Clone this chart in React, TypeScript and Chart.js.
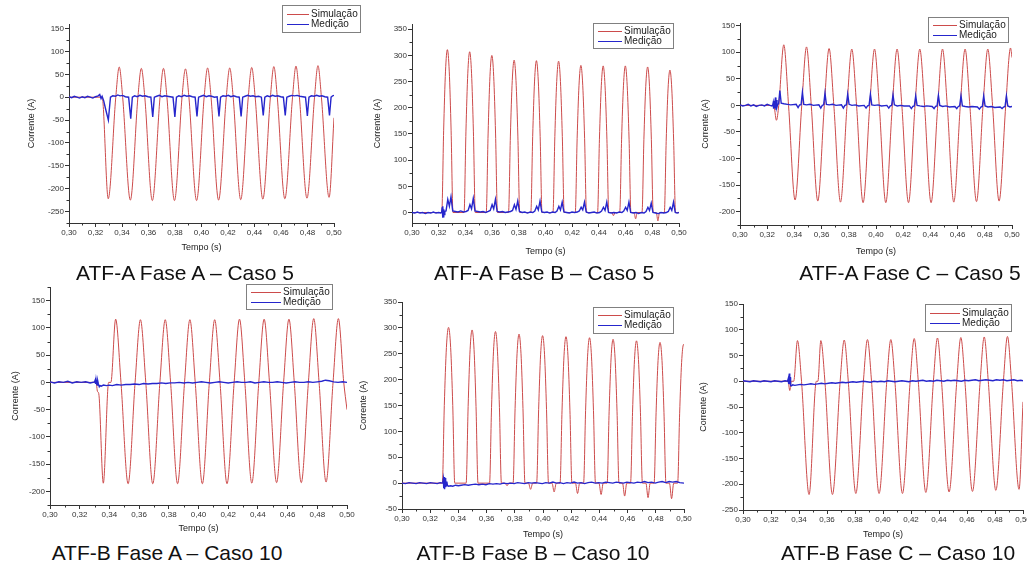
import React, { useEffect, useRef } from "react";
import { Chart, registerables } from "chart.js";

Chart.register(...registerables);

const FONT = 'Arial, "Liberation Sans", Helvetica, sans-serif';

// ---------- tick labels / texts ----------
const X_TICKS = [0.3, 0.32, 0.34, 0.36, 0.38, 0.4, 0.42, 0.44, 0.46, 0.48, 0.5];
const Y_TICKS_AA = [-250, -200, -150, -100, -50, 0, 50, 100, 150];
const Y_TICKS_AB = [0, 50, 100, 150, 200, 250, 300, 350];
const Y_TICKS_AC = [-200, -150, -100, -50, 0, 50, 100, 150];
const Y_TICKS_BA = [-200, -150, -100, -50, 0, 50, 100, 150];
const Y_TICKS_BB = [-50, 0, 50, 100, 150, 200, 250, 300, 350];
const Y_TICKS_BC = [-250, -200, -150, -100, -50, 0, 50, 100, 150];

const SERIES_LABELS = ["Simulação", "Medição"];
const X_TITLE = "Tempo (s)";
const Y_TITLE = "Corrente (A)";
const CAPTIONS = [
  "ATF-A Fase A – Caso 5",
  "ATF-A Fase B – Caso 5",
  "ATF-A Fase C – Caso 5",
  "ATF-B Fase A – Caso 10",
  "ATF-B Fase B – Caso 10",
  "ATF-B Fase C – Caso 10",
];

// ---------- data: [tempo (s), corrente (A)] ----------
const simAA = [
  [0.3, 0], [0.325, 0], [0.3296, -222], [0.3353, 0], [0.3379, 66], [0.3405, 0],
  [0.3463, -225], [0.352, 0], [0.3546, 63], [0.3572, 0],
  [0.3629, -226], [0.3687, 0], [0.3713, 63], [0.3739, 0],
  [0.3796, -226], [0.3853, 0], [0.3879, 62], [0.3905, 0],
  [0.3963, -226], [0.402, 0], [0.4046, 64], [0.4072, 0],
  [0.4129, -225], [0.4187, 0], [0.4213, 64], [0.4239, 0],
  [0.4296, -224], [0.4353, 0], [0.4379, 65], [0.4405, 0],
  [0.4463, -223], [0.452, 0], [0.4546, 67], [0.4572, 0],
  [0.4629, -222], [0.4687, 0], [0.4713, 68], [0.4739, 0],
  [0.4796, -221], [0.4853, 0], [0.4879, 69], [0.4905, 0],
  [0.4963, -219], [0.5, -45],
];
const medAA = [
  [0.3, 1], [0.302, -1], [0.304, 2], [0.306, 0], [0.308, -2], [0.31, 1], [0.312, -1], [0.314, 2], [0.316, 0], [0.318, -2], [0.32, 1], [0.322, 3], [0.3232, 6], [0.3242, -3], [0.325, 2],
  [0.3262, -8], [0.3278, -28], [0.3297, -50], [0.3306, -22], [0.3313, 0],
  [0.333, 3], [0.335, 2], [0.3368, 5], [0.3385, 3], [0.3405, 4], [0.3425, 1], [0.345, 0],
  [0.3466, -47], [0.3478, 0], [0.3495, 3], [0.3515, 1], [0.3535, 4], [0.3555, 2], [0.3575, 3], [0.3597, 1], [0.3618, 0],
  [0.3632, -43], [0.3644, 0], [0.3662, 2], [0.3682, 4], [0.3702, 1], [0.3722, 3], [0.3742, 2], [0.3764, 1], [0.3785, 0],
  [0.3799, -43], [0.3811, 0], [0.3829, 3], [0.3849, 1], [0.3869, 4], [0.3889, 2], [0.3909, 3], [0.3931, 1], [0.3952, 0],
  [0.3966, -42], [0.3978, 0], [0.3996, 2], [0.4016, 4], [0.4036, 1], [0.4056, 3], [0.4076, 2], [0.4098, 0], [0.4118, 1],
  [0.4132, -42], [0.4144, 0], [0.4162, 3], [0.4182, 2], [0.4202, 4], [0.4222, 1], [0.4242, 3], [0.4264, 1], [0.4285, 0],
  [0.4299, -42], [0.4311, 0], [0.4329, 2], [0.4349, 4], [0.4369, 2], [0.4389, 3], [0.4409, 1], [0.4431, 2], [0.4452, 0],
  [0.4466, -40], [0.4478, 0], [0.4496, 3], [0.4516, 1], [0.4536, 4], [0.4556, 2], [0.4576, 3], [0.4598, 1], [0.4618, 0],
  [0.4632, -40], [0.4644, 0], [0.4662, 2], [0.4682, 4], [0.4702, 3], [0.4722, 4], [0.4742, 2], [0.4764, 1], [0.4785, 0],
  [0.4799, -41], [0.4811, 0], [0.4829, 3], [0.4849, 2], [0.4869, 4], [0.4889, 2], [0.4909, 3], [0.4931, 1], [0.4952, 0],
  [0.4966, -40], [0.4978, 0], [0.499, 3], [0.5, 4],
];

const simAB = [
  [0.3, 0], [0.3223, 0], [0.3237, 156], [0.3251, 270], [0.3265, 311], [0.3279, 270], [0.3293, 156], [0.3307, 0],
  [0.339, 0], [0.3404, 154], [0.3418, 266], [0.3432, 307], [0.3446, 266], [0.346, 154], [0.3474, 0],
  [0.3556, 0], [0.357, 150], [0.3584, 260], [0.3598, 300], [0.3612, 260], [0.3626, 150], [0.364, 0],
  [0.3723, 0], [0.3737, 146], [0.3751, 252], [0.3765, 291], [0.3779, 252], [0.3793, 146], [0.3807, 0],
  [0.389, 0], [0.3904, 145], [0.3918, 251], [0.3932, 290], [0.3946, 251], [0.396, 145], [0.3974, 0],
  [0.4056, 0], [0.407, 145], [0.4084, 250], [0.4098, 289], [0.4112, 250], [0.4126, 145], [0.414, 0],
  [0.4223, 0], [0.4237, 141], [0.4251, 243], [0.4265, 281], [0.4279, 243], [0.4293, 141], [0.4307, 0],
  [0.439, 0], [0.4404, 140], [0.4418, 242], [0.4432, 280], [0.4446, 242], [0.446, 140], [0.4474, 0],
  [0.4497, 0], [0.4509, -6], [0.4521, 0],
  [0.4556, 0], [0.457, 140], [0.4584, 242], [0.4598, 280], [0.4612, 242], [0.4626, 140], [0.464, 0],
  [0.4663, 0], [0.4675, -12], [0.4687, 0],
  [0.4723, 0], [0.4737, 139], [0.4751, 241], [0.4765, 278], [0.4779, 241], [0.4793, 139], [0.4807, 0],
  [0.483, 0], [0.4842, -16], [0.4854, 0],
  [0.489, 0], [0.4904, 136], [0.4918, 236], [0.4932, 272], [0.4946, 236], [0.496, 136], [0.4974, 0], [0.5, 0],
];
const medAB = [
  [0.3, 0], [0.302, -1], [0.304, 1], [0.306, -1], [0.308, 0], [0.31, -2], [0.312, 0], [0.314, -1], [0.316, 1], [0.318, -1], [0.32, 0], [0.3215, -1],
  [0.3222, 0], [0.3226, 10], [0.3229, -10], [0.3232, 12], [0.3235, -8], [0.3238, 6], [0.3241, -4], [0.3246, 2],
  [0.3255, 3], [0.3268, 25], [0.328, 12], [0.3292, 30], [0.3305, 3],
  [0.3325, 2], [0.3345, 1], [0.3365, 3], [0.3385, 1], [0.3405, 2],
  [0.342, 4], [0.3434, 15], [0.3446, 7], [0.3459, 27], [0.3472, 3],
  [0.3492, 2], [0.3512, 1], [0.3532, 2], [0.3552, 0], [0.3572, 2],
  [0.3586, 4], [0.36, 15], [0.3612, 7], [0.3625, 25], [0.3638, 2],
  [0.3658, 1], [0.3678, 2], [0.3698, 0], [0.3718, 1], [0.3738, 2],
  [0.3753, 4], [0.3767, 15], [0.3779, 6], [0.3792, 22], [0.3805, 2],
  [0.3825, 0], [0.3845, 1], [0.3865, -1], [0.3885, 1], [0.3905, 0],
  [0.392, 3], [0.3934, 12], [0.3946, 5], [0.3959, 22], [0.3972, 1],
  [0.3992, 0], [0.4012, 1], [0.4032, -1], [0.4052, 1], [0.4072, 0],
  [0.4086, 3], [0.41, 12], [0.4112, 5], [0.4125, 20], [0.4138, 1],
  [0.4158, 0], [0.4178, -1], [0.4198, 1], [0.4218, 0], [0.4238, 1],
  [0.4253, 3], [0.4267, 10], [0.4279, 5], [0.4292, 20], [0.4305, 1],
  [0.4325, -1], [0.4345, 0], [0.4365, 1], [0.4385, -1], [0.4405, 0],
  [0.442, 3], [0.4434, 10], [0.4446, 4], [0.4459, 20], [0.4472, 0],
  [0.4492, -1], [0.4512, 0], [0.4532, -1], [0.4552, 1], [0.4572, 0],
  [0.4586, 3], [0.46, 10], [0.4612, 4], [0.4625, 20], [0.4638, 0],
  [0.4658, -1], [0.4678, 0], [0.4698, -2], [0.4718, 0], [0.4738, -1],
  [0.4753, 2], [0.4767, 10], [0.4779, 4], [0.4792, 18], [0.4805, 0],
  [0.4825, -1], [0.4845, -2], [0.4865, 0], [0.4885, -1], [0.4905, 0],
  [0.492, 2], [0.4934, 10], [0.4946, 4], [0.4959, 20], [0.4972, 0], [0.4986, -1], [0.5, 0],
];

const simAC = [
  [0.3, 0], [0.3248, 0], [0.3268, -28], [0.3285, 0], [0.3322, 114], [0.3357, 0],
  [0.3405, -178], [0.3454, 0], [0.3489, 110], [0.3524, 0],
  [0.3572, -180], [0.362, 0], [0.3655, 107], [0.369, 0],
  [0.3739, -182], [0.3787, 0], [0.3822, 106], [0.3857, 0],
  [0.3905, -183], [0.3954, 0], [0.3989, 106], [0.4024, 0],
  [0.4072, -183], [0.412, 0], [0.4155, 106], [0.419, 0],
  [0.4239, -183], [0.4287, 0], [0.4322, 106], [0.4357, 0],
  [0.4405, -183], [0.4454, 0], [0.4489, 106], [0.4524, 0],
  [0.4572, -182], [0.462, 0], [0.4655, 106], [0.469, 0],
  [0.4739, -181], [0.4787, 0], [0.4822, 106], [0.4857, 0],
  [0.4905, -180], [0.4954, 0], [0.4989, 108], [0.5, 90],
];
const medAC = [
  [0.3, 1], [0.302, -1], [0.304, 0], [0.306, 2], [0.308, -1], [0.31, 1], [0.312, -2], [0.314, 0], [0.316, 1], [0.318, -1], [0.32, 2], [0.322, 0], [0.3235, -1],
  [0.324, 0], [0.3244, 5], [0.3247, -6], [0.3251, 8], [0.3254, -5], [0.3257, 4], [0.3261, 15], [0.3264, -8], [0.3268, 10], [0.3272, -3], [0.3277, 2],
  [0.3284, 3], [0.3293, 28], [0.3303, 4], [0.3323, 3], [0.3348, 2], [0.3373, 1], [0.3413, 2], [0.3427, -4], [0.3438, 1],
  [0.3449, 1], [0.3459, 25], [0.3469, 2], [0.349, 1], [0.3515, 2], [0.354, 0], [0.358, 1], [0.3594, -5], [0.3605, 0],
  [0.3615, 1], [0.3625, 23], [0.3635, 2], [0.3656, 1], [0.3681, 2], [0.3706, 0], [0.3746, 1], [0.376, -5], [0.3771, 0],
  [0.3782, 1], [0.3792, 21], [0.3802, 2], [0.3823, 0], [0.3848, 1], [0.3873, -1], [0.3913, 0], [0.3927, -5], [0.3938, -1],
  [0.3949, 0], [0.3959, 21], [0.3969, 1], [0.399, 0], [0.4015, 1], [0.404, -1], [0.408, 0], [0.4094, -5], [0.4105, -1],
  [0.4115, 0], [0.4125, 20], [0.4135, 1], [0.4156, -1], [0.4181, 0], [0.4206, -1], [0.4246, -1], [0.426, -6], [0.4271, -2],
  [0.4282, -1], [0.4292, 18], [0.4302, 0], [0.4323, -1], [0.4348, -2], [0.4373, -1], [0.4413, -2], [0.4427, -6], [0.4438, -2],
  [0.4449, -1], [0.4459, 19], [0.4469, 0], [0.449, -2], [0.4515, -1], [0.454, -3], [0.458, -2], [0.4594, -6], [0.4605, -2],
  [0.4615, -1], [0.4625, 18], [0.4635, -1], [0.4656, -2], [0.4681, -3], [0.4706, -2], [0.4746, -3], [0.476, -7], [0.4771, -3],
  [0.4782, -2], [0.4792, 18], [0.4802, -1], [0.4823, -3], [0.4848, -2], [0.4873, -4], [0.4913, -3], [0.4927, -6], [0.4938, -3],
  [0.4949, -2], [0.4959, 18], [0.4969, -1], [0.4985, -3], [0.5, -2],
];

const simBA = [
  [0.3, 0], [0.331, 0], [0.332, -17], [0.3328, -20], [0.3359, -185], [0.3395, 0], [0.341, 0], [0.3442, 116], [0.3478, 0],
  [0.3526, -186], [0.3573, 0], [0.3609, 115], [0.3645, 0],
  [0.3692, -186], [0.374, 0], [0.3776, 115], [0.3812, 0],
  [0.3859, -186], [0.3906, 0], [0.3942, 115], [0.3978, 0],
  [0.4026, -186], [0.4073, 0], [0.4109, 115], [0.4145, 0],
  [0.4192, -186], [0.424, 0], [0.4276, 116], [0.4312, 0],
  [0.4359, -185], [0.4406, 0], [0.4442, 116], [0.4478, 0],
  [0.4526, -184], [0.4573, 0], [0.4609, 116], [0.4645, 0],
  [0.4692, -184], [0.474, 0], [0.4776, 117], [0.4812, 0],
  [0.4859, -183], [0.4906, 0], [0.4942, 117], [0.4978, 0], [0.5, -50],
];
const medBA = [
  [0.3, 1], [0.303, -1], [0.306, 1], [0.309, 0], [0.312, 2], [0.315, -1], [0.318, 1], [0.321, 0], [0.324, 1], [0.327, -1], [0.33, 1],
  [0.3304, 4], [0.3307, -3], [0.331, 5], [0.3313, -4], [0.3316, 3], [0.3319, -5], [0.3322, 2], [0.3326, -3],
  [0.3332, -8], [0.3338, -6], [0.3345, -7], [0.336, -5], [0.338, -6], [0.34, -5], [0.342, -6], [0.345, -4], [0.348, -5], [0.351, -4], [0.354, -4], [0.357, -3], [0.36, -4], [0.363, -2],
  [0.366, -3], [0.369, -2], [0.372, -2], [0.375, -1], [0.378, -2], [0.381, -1], [0.384, -1], [0.387, 0], [0.39, -1], [0.393, 0], [0.396, -1], [0.399, 0],
  [0.402, 1], [0.405, 0], [0.408, -1], [0.411, 0], [0.414, 1], [0.417, 0], [0.42, -1], [0.423, 0], [0.426, 1], [0.429, 0], [0.432, 0], [0.435, 1], [0.438, -1],
  [0.441, 0], [0.444, 1], [0.447, 0], [0.45, 0], [0.453, 1], [0.456, 0], [0.459, -1], [0.462, 0], [0.465, 1], [0.468, 0], [0.471, 0], [0.474, 1], [0.477, 0],
  [0.48, 1], [0.483, 2], [0.4855, 4], [0.488, 3], [0.491, 1], [0.494, 0], [0.497, 1], [0.5, 0],
];

const simBB = [
  [0.3, 0], [0.3286, 0], [0.33, 150], [0.3315, 262], [0.333, 301], [0.3345, 262], [0.336, 150], [0.3374, 0],
  [0.3455, 0], [0.3469, 148], [0.3483, 258], [0.3497, 296], [0.3511, 258], [0.3525, 148], [0.3539, 0],
  [0.3621, 0], [0.3635, 146], [0.3649, 255], [0.3663, 293], [0.3677, 255], [0.3691, 146], [0.3705, 0],
  [0.373, 0], [0.3745, -5], [0.376, 0],
  [0.3788, 0], [0.3802, 144], [0.3816, 250], [0.383, 288], [0.3844, 250], [0.3858, 144], [0.3872, 0],
  [0.3897, 0], [0.3912, -12], [0.3927, 0],
  [0.3955, 0], [0.3969, 142], [0.3983, 248], [0.3997, 285], [0.4011, 248], [0.4025, 142], [0.4039, 0],
  [0.4064, 0], [0.4079, -17], [0.4094, 0],
  [0.4121, 0], [0.4135, 141], [0.4149, 246], [0.4163, 283], [0.4177, 246], [0.4191, 141], [0.4205, 0],
  [0.423, 0], [0.4245, -20], [0.426, 0],
  [0.4288, 0], [0.4302, 140], [0.4316, 244], [0.433, 281], [0.4344, 244], [0.4358, 140], [0.4372, 0],
  [0.4397, 0], [0.4412, -22], [0.4427, 0],
  [0.4455, 0], [0.4469, 139], [0.4483, 242], [0.4497, 278], [0.4511, 242], [0.4525, 139], [0.4539, 0],
  [0.4564, 0], [0.4579, -25], [0.4594, 0],
  [0.4621, 0], [0.4635, 137], [0.4649, 239], [0.4663, 275], [0.4677, 239], [0.4691, 137], [0.4705, 0],
  [0.473, 0], [0.4745, -28], [0.476, 0],
  [0.4788, 0], [0.4802, 136], [0.4816, 237], [0.483, 272], [0.4844, 237], [0.4858, 136], [0.4872, 0],
  [0.4897, 0], [0.4912, -30], [0.4927, 0],
  [0.4955, 0], [0.4969, 134], [0.4983, 233], [0.4997, 268], [0.5, 266],
];
const medBB = [
  [0.3, 0], [0.3025, -1], [0.305, 1], [0.3075, 0], [0.31, -1], [0.3125, 1], [0.315, 0], [0.3175, -1], [0.32, 1], [0.3225, 0], [0.325, -1], [0.327, 1], [0.3287, 0],
  [0.329, 3], [0.3293, 8], [0.3296, -10], [0.3299, 12], [0.3302, -12], [0.3305, 10], [0.3308, -8], [0.3311, 6], [0.3314, -5], [0.3318, 3], [0.3322, -4], [0.333, -6],
  [0.3345, -5], [0.336, -6], [0.338, -4], [0.34, -5], [0.342, -4], [0.3445, -3], [0.347, -4], [0.3495, -3], [0.352, -2], [0.3545, -3], [0.357, -2], [0.3595, -3],
  [0.362, -1], [0.3645, -2], [0.367, -1], [0.3695, -2], [0.372, 0], [0.3745, -1], [0.377, 0], [0.3795, -1], [0.382, 1], [0.3845, 0], [0.387, -1], [0.3895, 1],
  [0.392, 0], [0.3945, 1], [0.397, 0], [0.3995, -1], [0.402, 1], [0.4045, 0], [0.407, 2], [0.4095, 0], [0.412, 1], [0.4145, -1], [0.417, 1], [0.4195, 0],
  [0.422, 2], [0.4245, 0], [0.427, 1], [0.4295, -1], [0.432, 1], [0.4345, 2], [0.437, 0], [0.4395, 1], [0.442, 0], [0.4445, 2], [0.447, 1], [0.4495, 0],
  [0.452, 2], [0.4545, 1], [0.457, 0], [0.4595, 2], [0.462, 1], [0.4645, 0], [0.467, 2], [0.4695, 1], [0.472, 3], [0.4745, 1], [0.477, 2], [0.4795, 0],
  [0.482, 2], [0.4845, 3], [0.487, 1], [0.4895, 3], [0.492, 2], [0.4945, 3], [0.497, 1], [0.5, 0],
];

const simBC = [
  [0.3, 0], [0.3322, 0], [0.3334, -18], [0.3345, 0], [0.3362, 0], [0.3389, 79], [0.3418, 0],
  [0.3472, -220], [0.3524, 0], [0.3535, 0], [0.3556, 79], [0.3585, 0],
  [0.3639, -220], [0.3694, 0], [0.3723, 80], [0.3752, 0],
  [0.3806, -218], [0.386, 0], [0.3889, 81], [0.3918, 0],
  [0.3972, -218], [0.4027, 0], [0.4056, 81], [0.4085, 0],
  [0.4139, -218], [0.4194, 0], [0.4223, 83], [0.4252, 0],
  [0.4306, -216], [0.436, 0], [0.4389, 84], [0.4418, 0],
  [0.4472, -215], [0.4527, 0], [0.4556, 85], [0.4585, 0],
  [0.4639, -214], [0.4694, 0], [0.4723, 86], [0.4752, 0],
  [0.4806, -212], [0.486, 0], [0.4889, 87], [0.4918, 0],
  [0.4972, -210], [0.5, -40],
];
const medBC = [
  [0.3, 1], [0.3025, 0], [0.305, -1], [0.3075, 1], [0.31, 0], [0.3125, -1], [0.315, 1], [0.3175, 0], [0.32, -1], [0.3225, 1], [0.325, 0], [0.3275, -1], [0.33, 1], [0.3318, 0],
  [0.3322, 4], [0.3325, -5], [0.3328, 6], [0.3331, 15], [0.3334, -6], [0.3337, 8], [0.334, -8], [0.3345, -9], [0.3355, -7], [0.337, -8], [0.339, -7], [0.341, -6],
  [0.3435, -7], [0.346, -6], [0.3485, -5], [0.351, -6], [0.3535, -5], [0.356, -4], [0.3585, -5], [0.361, -4], [0.3635, -3], [0.366, -4], [0.3685, -3], [0.371, -2],
  [0.3735, -3], [0.376, -2], [0.3785, -1], [0.381, -2], [0.3835, -1], [0.386, 0], [0.3885, -1], [0.391, -2], [0.3935, 0], [0.396, -1], [0.3985, 0], [0.401, -1],
  [0.4035, 1], [0.406, 0], [0.4085, -1], [0.411, 0], [0.4135, 1], [0.416, 0], [0.4185, -1], [0.421, 1], [0.4235, 0], [0.426, 1], [0.4285, 2], [0.431, 0],
  [0.4335, 1], [0.436, 0], [0.4385, 2], [0.441, 1], [0.4435, 0], [0.446, 2], [0.4485, 1], [0.451, 2], [0.4535, 1], [0.456, 0], [0.4585, 2], [0.461, 1],
  [0.4635, 2], [0.466, 3], [0.4685, 1], [0.471, 2], [0.4735, 3], [0.476, 2], [0.4785, 1], [0.481, 3], [0.4835, 2], [0.486, 3], [0.4885, 1], [0.491, 2],
  [0.4935, 3], [0.496, 1], [0.4985, 2], [0.5, 1],
];

// ---------- layout (page pixels) ----------
const PANELS = [
  { sim: simAA, med: medAA, yTicks: Y_TICKS_AA, yMin: -275, yMax: 160, L: 69, R: 334, T: 24, B: 223, yTitleX: 31, xTitleY: 248, legend: { x: 282, y: 5, w: 78, h: 27 }, capX: 185, capY: 273 },
  { sim: simAB, med: medAB, yTicks: Y_TICKS_AB, yMin: -20, yMax: 360, L: 412, R: 679, T: 24, B: 223, yTitleX: 377, xTitleY: 252, legend: { x: 593, y: 23, w: 80, h: 25 }, capX: 544, capY: 273 },
  { sim: simAC, med: medAC, yTicks: Y_TICKS_AC, yMin: -225, yMax: 155, L: 740, R: 1012, T: 23, B: 225, yTitleX: 705, xTitleY: 252, legend: { x: 928, y: 17, w: 80, h: 25 }, capX: 910, capY: 273 },
  { sim: simBA, med: medBA, yTicks: Y_TICKS_BA, yMin: -225, yMax: 175, L: 50, R: 347, T: 287, B: 505, yTitleX: 15, xTitleY: 529, legend: { x: 246, y: 284, w: 86, h: 25 }, capX: 167, capY: 553 },
  { sim: simBB, med: medBB, yTicks: Y_TICKS_BB, yMin: -50, yMax: 350, L: 402, R: 684, T: 302, B: 509, yTitleX: 363, xTitleY: 535, legend: { x: 593, y: 307, w: 80, h: 26 }, capX: 533, capY: 553 },
  { sim: simBC, med: medBC, yTicks: Y_TICKS_BC, yMin: -250, yMax: 150, L: 743, R: 1023, T: 304, B: 510, yTitleX: 703, xTitleY: 535, legend: { x: 925, y: 304, w: 86, h: 27 }, capX: 898, capY: 553 },
];

const SIM_COLOR = "#cc4b4b";
const MED_COLOR = "#2626cc";
const AXIS_COLOR = "#333333";

const minorTicks = {
  id: "minorTicks",
  afterDraw(chart: any) {
    const ctx = chart.ctx;
    const ca = chart.chartArea;
    ctx.save();
    ctx.strokeStyle = AXIS_COLOR;
    ctx.lineWidth = 1;
    const xs = chart.scales.x;
    const xv = xs.ticks.map((t: any) => t.value);
    for (let i = 0; i < xv.length - 1; i++) {
      const px = Math.round(xs.getPixelForValue((xv[i] + xv[i + 1]) / 2)) + 0.5;
      ctx.beginPath();
      ctx.moveTo(px, ca.bottom);
      ctx.lineTo(px, ca.bottom + 2.5);
      ctx.stroke();
    }
    const ys = chart.scales.y;
    const yv = ys.ticks.map((t: any) => t.value);
    const step = yv[1] - yv[0];
    const mids: number[] = [];
    for (let i = 0; i < yv.length - 1; i++) mids.push((yv[i] + yv[i + 1]) / 2);
    if (yv[0] - step / 2 >= ys.min) mids.push(yv[0] - step / 2);
    if (yv[yv.length - 1] + step / 2 <= ys.max) mids.push(yv[yv.length - 1] + step / 2);
    mids.forEach((v) => {
      const py = Math.round(ys.getPixelForValue(v)) + 0.5;
      ctx.beginPath();
      ctx.moveTo(ca.left, py);
      ctx.lineTo(ca.left - 2.5, py);
      ctx.stroke();
    });
    ctx.restore();
  },
};

const boxLegend = {
  id: "boxLegend",
  afterDraw(chart: any, _args: any, opts: any) {
    const ctx = chart.ctx;
    const { x, y, w, h } = opts;
    ctx.save();
    ctx.fillStyle = "#ffffff";
    ctx.fillRect(x, y, w, h);
    ctx.strokeStyle = "#808080";
    ctx.lineWidth = 1;
    ctx.strokeRect(x + 0.5, y + 0.5, w, h);
    ctx.font = `10px ${FONT}`;
    ctx.textBaseline = "middle";
    ctx.textAlign = "left";
    const textX = x + w - 49;
    chart.data.datasets.forEach((ds: any, i: number) => {
      const ry = Math.round(y + h / 2 + (i === 0 ? -5 : 5)) + 0.5;
      ctx.strokeStyle = ds.borderColor;
      ctx.beginPath();
      ctx.moveTo(x + 5, ry);
      ctx.lineTo(textX - 2, ry);
      ctx.stroke();
      ctx.fillStyle = "#222";
      ctx.fillText(ds.label, textX, ry);
    });
    ctx.restore();
  },
};

function Panel({ cfg }: { cfg: any }) {
  const ref = useRef<HTMLCanvasElement>(null);
  const YW = Math.round(cfg.L - cfg.yTitleX + 5);
  const XH = Math.round(cfg.xTitleY - cfg.B + 5);
  const padT = Math.max(8, cfg.T - cfg.legend.y + 2);
  const padR = Math.max(12, cfg.legend.x + cfg.legend.w + 3 - cfg.R);
  const left = cfg.L - YW;
  const top = cfg.T - padT;
  const width = cfg.R - cfg.L + YW + padR;
  const height = cfg.B - cfg.T + padT + XH;

  useEffect(() => {
    const tickFont = { family: FONT, size: 8 };
    const titleFont = { family: FONT, size: 9 };
    const chart = new Chart(ref.current as HTMLCanvasElement, {
      type: "line",
      data: {
        datasets: [
          {
            label: SERIES_LABELS[0],
            data: cfg.sim.map((p: number[]) => ({ x: p[0], y: p[1] })),
            borderColor: SIM_COLOR,
            borderWidth: 1,
            pointRadius: 0,
            cubicInterpolationMode: "monotone",
            order: 1,
          },
          {
            label: SERIES_LABELS[1],
            data: cfg.med.map((p: number[]) => ({ x: p[0], y: p[1] })),
            borderColor: MED_COLOR,
            borderWidth: 1.4,
            pointRadius: 0,
            tension: 0,
            order: 0,
          },
        ],
      },
      options: {
        responsive: false,
        animation: false,
        events: [],
        layout: { padding: { top: padT, right: padR, left: 0, bottom: 0 } },
        plugins: {
          legend: { display: false },
          tooltip: { enabled: false },
          boxLegend: { x: cfg.legend.x - left, y: cfg.legend.y - top, w: cfg.legend.w, h: cfg.legend.h },
        } as any,
        scales: {
          x: {
            type: "linear",
            min: 0.3,
            max: 0.5,
            afterBuildTicks: (s: any) => {
              s.ticks = X_TICKS.map((v) => ({ value: v }));
            },
            afterFit: (s: any) => {
              s.height = XH;
            },
            ticks: {
              callback: (v: any) => Number(v).toFixed(2).replace(".", ","),
              font: tickFont,
              color: AXIS_COLOR,
              padding: 1,
              maxRotation: 0,
              autoSkip: false,
            },
            grid: { drawOnChartArea: false, drawTicks: true, tickLength: 4, color: AXIS_COLOR },
            border: { display: true, color: AXIS_COLOR, width: 1 },
            title: { display: true, text: X_TITLE, font: titleFont, color: "#222", padding: 0 },
          },
          y: {
            type: "linear",
            min: cfg.yMin,
            max: cfg.yMax,
            afterBuildTicks: (s: any) => {
              s.ticks = cfg.yTicks.map((v: number) => ({ value: v }));
            },
            afterFit: (s: any) => {
              s.width = YW;
            },
            ticks: {
              callback: (v: any) => String(v),
              font: tickFont,
              color: AXIS_COLOR,
              padding: 1,
              autoSkip: false,
            },
            grid: { drawOnChartArea: false, drawTicks: true, tickLength: 4, color: AXIS_COLOR },
            border: { display: true, color: AXIS_COLOR, width: 1 },
            title: { display: true, text: Y_TITLE, font: titleFont, color: "#222", padding: 0 },
          },
        },
      } as any,
      plugins: [minorTicks, boxLegend],
    });
    return () => chart.destroy();
  }, []);

  return (
    <canvas
      ref={ref}
      width={width}
      height={height}
      style={{ position: "absolute", left, top, width, height }}
    />
  );
}

export default function App() {
  return (
    <div
      style={{
        position: "absolute",
        left: 0,
        top: 0,
        width: 1027,
        height: 566,
        overflow: "hidden",
        background: "#ffffff",
      }}
    >
      {PANELS.map((p, i) => (
        <Panel key={i} cfg={p} />
      ))}
      {PANELS.map((p, i) => (
        <div
          key={"c" + i}
          style={{
            position: "absolute",
            left: p.capX - 200,
            top: p.capY - 12,
            width: 400,
            textAlign: "center",
            fontFamily: FONT,
            fontSize: 21,
            lineHeight: "24px",
            color: "#111",
            whiteSpace: "nowrap",
          }}
        >
          {CAPTIONS[i]}
        </div>
      ))}
    </div>
  );
}
